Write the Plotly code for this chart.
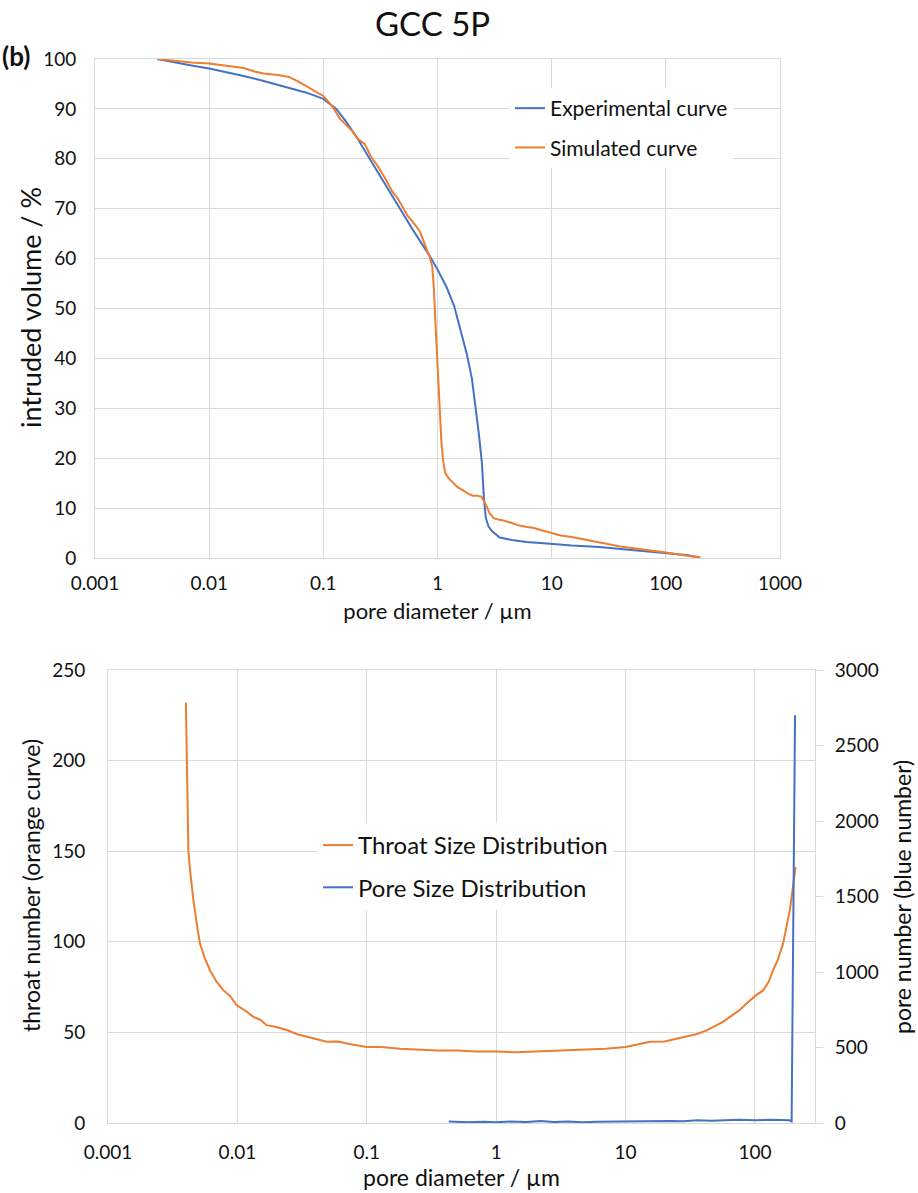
import plotly.graph_objects as go

# ---------------- data: top chart (intrusion curves) ----------------
exp_x = [0.0035, 0.005, 0.007, 0.01, 0.015, 0.02, 0.03, 0.05, 0.07, 0.1, 0.13, 0.16, 0.2, 0.25,
         0.3, 0.4, 0.5, 0.6, 0.7, 0.85, 1.0, 1.2, 1.4, 1.6, 1.8, 2.0, 2.15, 2.3, 2.45, 2.55, 2.65,
         2.8, 3.0, 3.5, 4.5, 6, 8, 10, 15, 26, 50, 100, 150, 200]
exp_y = [100, 99.3, 98.7, 98.1, 97.3, 96.6, 95.6, 94.3, 93.3, 92.0, 90.0, 87.3, 84.0, 80.3,
         77.3, 72.5, 68.8, 66.0, 63.6, 60.6, 57.8, 54.3, 50.5, 45.5, 41, 36, 30.5, 25, 19, 12, 8,
         6.3, 5.4, 4.1, 3.6, 3.2, 3.0, 2.8, 2.5, 2.2, 1.6, 1.0, 0.6, 0.1]

sim_x = [0.0035, 0.005, 0.007, 0.01, 0.013, 0.015, 0.02, 0.025, 0.03, 0.04, 0.05, 0.06, 0.07,
         0.085, 0.1, 0.12, 0.14, 0.16, 0.18, 0.2, 0.23, 0.26, 0.3, 0.35, 0.4, 0.45, 0.5, 0.55,
         0.6, 0.7, 0.8, 0.85, 0.9, 0.93, 0.96, 1.0, 1.04, 1.08, 1.12, 1.17, 1.25, 1.37, 1.5,
         1.66, 1.85, 2.03, 2.2, 2.42, 2.55, 2.68, 2.85, 3.1, 3.4, 3.8, 4.5, 5.2, 6.1, 7, 8, 10,
         12, 15, 20, 25, 30, 40, 50, 70, 100, 130, 160, 200]
sim_y = [100, 99.6, 99.3, 99.1, 98.8, 98.6, 98.2, 97.5, 97.1, 96.8, 96.4, 95.5, 94.6,
         93.6, 92.6, 90.5, 88, 86.7, 85.5, 84, 83, 80.5, 78.5, 76, 73.5, 72, 70.2, 68.5,
         67.5, 65.5, 62, 60.5, 58.4, 54, 47, 38, 30, 23.5, 19.5, 17, 16, 15, 14.2,
         13.6, 12.9, 12.5, 12.5, 12.3, 11.5, 10.5, 9, 8, 7.7, 7.5, 7.0, 6.5, 6.2, 6.0, 5.6, 5.0,
         4.5, 4.2, 3.6, 3.2, 2.8, 2.3, 2.0, 1.6, 1.1, 0.7, 0.4, 0.1]

# ---------------- data: bottom chart (size distributions) ----------------
throat_x = [0.004, 0.00405, 0.0041, 0.00418, 0.0043, 0.00457, 0.0049, 0.00514, 0.0056, 0.00614,
            0.0069, 0.00778, 0.0088, 0.00988, 0.0115, 0.0133, 0.015, 0.0168, 0.02, 0.024, 0.029,
            0.0343, 0.041, 0.049, 0.06, 0.075, 0.1, 0.13, 0.18, 0.25, 0.35, 0.5, 0.7, 1.0, 1.4,
            2, 3, 4, 5, 7, 10, 13, 15.5, 20, 27.9, 35, 42, 50.6, 57, 64, 75, 86, 100, 116, 128,
            138, 150, 165, 176, 186, 198, 206]
throat_y = [232, 200, 175, 150, 140, 123, 108, 99, 91, 84.3,
            78, 73.3, 70, 65, 62, 58.6, 57, 54, 53, 51.3, 49,
            47.6, 46, 44.8, 45, 43.5, 42, 42, 41, 40.5, 40, 40, 39.5, 39.5, 39,
            39.5, 40, 40, 40.5, 41, 42, 43.5, 44.8, 45, 47.6, 49, 51, 54, 56, 58.6, 62, 66, 70,
            73.3, 78, 84.3, 90, 99, 108, 117.4, 132, 141.3]

pore_x = [0.43, 0.6, 0.8, 1.0, 1.3, 1.7, 2.2, 2.8, 3.6, 4.6, 6, 8, 10, 13, 17, 22, 28, 36, 46,
          60, 75, 100, 130, 160, 185, 192, 204]
pore_y = [10, 5, 8, 5, 10, 6, 14, 6, 10, 5, 8, 10, 12, 10, 12, 14, 12, 18, 15,
          20, 22, 18, 22, 20, 18, 10, 2700]

x_tickvals_top = [0.001, 0.01, 0.1, 1, 10, 100, 1000]
x_ticktext_top = ["0.001", "0.01", "0.1", "1", "10", "100", "1000"]
x_tickvals_bot = [0.001, 0.01, 0.1, 1, 10, 100]
x_ticktext_bot = ["0.001", "0.01", "0.1", "1", "10", "100"]

BLUE = "#4472C4"
ORANGE = "#ED7D31"
GRID = "#d9d9d9"
FONT = "Lato"
W, H = 918, 1193

fig = go.Figure()
fig.add_trace(go.Scatter(x=exp_x, y=exp_y, mode="lines", name="Experimental curve",
                         line=dict(color=BLUE, width=2), xaxis="x", yaxis="y",
                         legend="legend", legendgroup="a"))
fig.add_trace(go.Scatter(x=sim_x, y=sim_y, mode="lines", name="Simulated curve",
                         line=dict(color=ORANGE, width=2), xaxis="x", yaxis="y",
                         legend="legend", legendgroup="b"))
fig.add_trace(go.Scatter(x=throat_x, y=throat_y, mode="lines", name="Throat Size Distribution",
                         line=dict(color=ORANGE, width=2), xaxis="x2", yaxis="y2",
                         legend="legend2", legendgroup="c"))
fig.add_trace(go.Scatter(x=pore_x, y=pore_y, mode="lines", name="Pore Size Distribution",
                         line=dict(color=BLUE, width=2), xaxis="x2", yaxis="y3",
                         legend="legend2", legendgroup="d"))

def px_x(p):
    return p / W

def px_y(p):
    return 1 - p / H

axis_common = dict(showgrid=True, gridcolor=GRID, gridwidth=1, zeroline=False,
                   showline=True, linecolor=GRID, linewidth=1, mirror=True, automargin=False,
                   tickfont=dict(family=FONT, size=19, color="#111"))

fig.update_layout(
    width=W, height=H,
    margin=dict(l=0, r=0, t=0, b=0),
    paper_bgcolor="white", plot_bgcolor="white",
    font=dict(family=FONT, color="#111"),
    xaxis=dict(type="log", range=[-3, 3], domain=[px_x(95), px_x(780)], anchor="y",
               tickvals=x_tickvals_top, ticktext=x_ticktext_top,
               ticks="outside", ticklen=8, tickcolor="rgba(0,0,0,0)",
               title=dict(text="pore diameter / µm", font=dict(family=FONT, size=22), standoff=10),
               **axis_common),
    yaxis=dict(range=[0, 100], domain=[px_y(558), px_y(59)], anchor="x",
               tickvals=list(range(0, 101, 10)),
               ticks="outside", ticklen=14, tickcolor="rgba(0,0,0,0)",
               **axis_common),
    xaxis2=dict(type="log", range=[-3, 2.464], domain=[px_x(108), px_x(815)], anchor="y2",
                tickvals=x_tickvals_bot, ticktext=x_ticktext_bot,
                ticks="outside", ticklen=12, tickcolor="rgba(0,0,0,0)",
                title=dict(text="pore diameter / µm", font=dict(family=FONT, size=23), standoff=0),
                **axis_common),
    yaxis2=dict(range=[0, 250], domain=[px_y(1123), px_y(670)], anchor="x2",
                tickvals=list(range(0, 251, 50)),
                ticks="outside", ticklen=18, tickcolor="rgba(0,0,0,0)",
                **axis_common),
    yaxis3=dict(range=[0, 3000], overlaying="y2", side="right", anchor="x2",
                tickvals=list(range(0, 3001, 500)), showgrid=False, zeroline=False,
                showline=False, ticks="outside", ticklen=7, tickcolor=GRID, automargin=False,
                ticklabelstandoff=8,
                tickfont=dict(family=FONT, size=19, color="#111")),
    legend=dict(x=px_x(510), y=px_y(88), xanchor="left", yanchor="top",
                bgcolor="white", borderwidth=0, tracegroupgap=9, traceorder="grouped",
                font=dict(family=FONT, size=21, color="#111")),
    legend2=dict(x=px_x(318), y=px_y(823), xanchor="left", yanchor="top",
                 bgcolor="white", borderwidth=0, tracegroupgap=8, traceorder="grouped",
                 font=dict(family=FONT, size=24, color="#111")),
    showlegend=True,
)

# axis titles on the vertical axes (placed as rotated text)
fig.add_annotation(text="intruded volume / %", x=px_x(30), y=px_y(308), xref="paper", yref="paper",
                   showarrow=False, textangle=-90, xanchor="center", yanchor="middle",
                   font=dict(family=FONT, size=27, color="#111"))
fig.add_annotation(text="throat number (orange curve)", x=px_x(31), y=px_y(886), xref="paper",
                   yref="paper", showarrow=False, textangle=-90, xanchor="center", yanchor="middle",
                   font=dict(family=FONT, size=23, color="#111"))
fig.add_annotation(text="pore number (blue number)", x=px_x(902), y=px_y(897), xref="paper",
                   yref="paper", showarrow=False, textangle=-90, xanchor="center", yanchor="middle",
                   font=dict(family=FONT, size=23, color="#111"))

fig.add_annotation(text="GCC 5P", x=px_x(432), y=px_y(23), xref="paper", yref="paper",
                   showarrow=False, xanchor="center", yanchor="middle",
                   font=dict(family=FONT, size=33, color="#111"))
fig.add_annotation(text="<b>(b)</b>", x=px_x(0), y=px_y(56), xref="paper", yref="paper",
                   showarrow=False, xanchor="left", yanchor="middle",
                   font=dict(family=FONT, size=26, color="#111"))

fig.write_html("out.html")
